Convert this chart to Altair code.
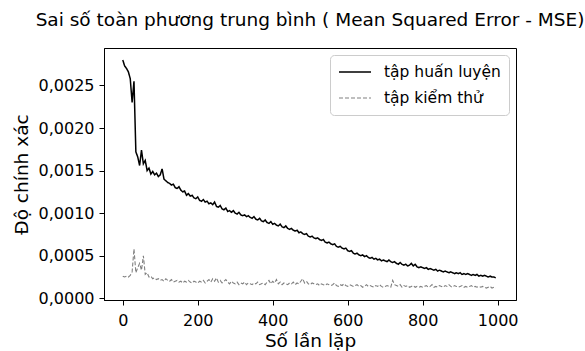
import altair as alt
import pandas as pd

# MSE values, every 5 iterations (0, 5, ..., 995)
train_mse = [
    .00280, .00273, .00270, .00266, .00258, .00230, .00255, .00172, .00166, .00156,
    .00174, .00158, .00162, .00150, .00153, .00146, .00149, .00145, .00147, .00143,
    .00145, .00152, .00140, .00138, .00136, .00135, .00133, .00134, .00130, .00129,
    .00131, .00127, .00125, .00126, .00121, .00123, .00120, .00121, .00118, .00117,
    .00119, .00115, .00114, .00116, .00113, .00114, .00111, .00112, .00110, .00113,
    .00108, .00107, .00109, .00105, .00104, .00106, .00102, .00103, .00101, .00103,
    .00100, .00099, .00101, .00098, .00097, .00098, .00096, .00097, .00095, .00094,
    .00096, .00093, .00092, .00094, .00091, .00090, .00092, .00089, .00088, .00090,
    .00087, .00088, .00086, .00085, .00087, .00084, .00083, .00085, .00082, .00081,
    .00082, .00080, .00079, .00080, .00077, .00078, .00076, .00075, .00076, .00073,
    .00072, .00073, .00071, .00070, .00071, .00069, .00068, .00069, .00066, .00065,
    .00066, .00064, .00063, .00064, .00061, .00060, .00061, .00059, .00058, .00059,
    .00056, .00055, .00056, .00053, .00052, .00053, .00051, .00050, .00051, .00049,
    .00050, .00048, .00047, .00048, .00046, .00047, .00045, .00046, .00044, .00045,
    .00044, .00043, .00045, .00043, .00042, .00043, .00041, .00040, .00042, .00040,
    .00039, .00040, .00038, .00039, .00041, .00038, .00040, .00037, .00036, .00037,
    .00036, .00035, .00036, .00034, .00035, .00034, .00033, .00034, .00032, .00033,
    .00032, .00031, .00032, .00031, .00030, .00031, .00030, .00029, .00030, .00029,
    .00030, .00028, .00029, .00028, .00029, .00028, .00027, .00028, .00027, .00028,
    .00026, .00027, .00026, .00027, .00026, .00025, .00026, .00025, .00025, .00024,
]

test_mse = [
    .00026, .00025, .00026, .00025, .00027, .00031, .00058, .00030, .00036, .00041,
    .00033, .00050, .00028, .00030, .00025, .00026, .00023, .00024, .00022, .00023,
    .00021, .00022, .00020, .00023, .00021, .00020, .00022, .00019, .00020, .00021,
    .00019, .00020, .00018, .00020, .00019, .00021, .00019, .00018, .00020, .00019,
    .00018, .00020, .00019, .00021, .00018, .00020, .00022, .00019, .00023, .00020,
    .00024, .00019, .00021, .00018, .00020, .00022, .00019, .00017, .00020, .00018,
    .00017, .00019, .00016, .00018, .00017, .00019, .00016, .00018, .00017, .00016,
    .00018, .00017, .00019, .00016, .00017, .00018, .00016, .00019, .00021, .00017,
    .00020, .00018, .00022, .00017, .00019, .00016, .00018, .00017, .00016, .00018,
    .00017, .00019, .00016, .00018, .00017, .00020, .00023, .00018, .00020, .00017,
    .00016, .00018, .00017, .00016, .00017, .00015, .00017, .00016, .00015, .00017,
    .00016, .00015, .00016, .00018, .00015, .00014, .00016, .00015, .00017, .00015,
    .00014, .00016, .00015, .00014, .00015, .00016, .00014, .00015, .00013, .00014,
    .00016, .00014, .00015, .00014, .00013, .00015, .00014, .00016, .00014, .00013,
    .00014, .00015, .00014, .00013, .00021, .00016, .00015, .00014, .00016, .00013,
    .00015, .00014, .00015, .00013, .00014, .00015, .00013, .00014, .00013, .00014,
    .00013, .00014, .00015, .00013, .00014, .00016, .00013, .00014, .00013, .00015,
    .00014, .00013, .00015, .00014, .00016, .00014, .00013, .00015, .00014, .00013,
    .00014, .00015, .00013, .00014, .00013, .00014, .00015, .00013, .00014, .00013,
    .00014, .00013, .00014, .00013, .00012, .00013, .00014, .00012, .00013, .00012,
]

series_names = ["tập huấn luyện", "tập kiểm thử"]
x_ticks = [0, 200, 400, 600, 800, 1000]
y_ticks = [0.0, 0.0005, 0.0010, 0.0015, 0.0020, 0.0025]

rows = []
for name, vals in zip(series_names, [train_mse, test_mse]):
    for i, v in enumerate(vals):
        rows.append({"epoch": i * 5, "mse": v, "series": name})
df = pd.DataFrame(rows)

FONT = "DejaVu Sans"

chart = alt.Chart(df).mark_line().encode(
    x=alt.X("epoch:Q",
            scale=alt.Scale(domain=[-50, 1049], nice=False, zero=False),
            axis=alt.Axis(values=x_ticks, title="Số lần lặp", format="d")),
    y=alt.Y("mse:Q",
            scale=alt.Scale(domain=[-0.00002, 0.00294], nice=False, zero=False),
            axis=alt.Axis(values=y_ticks, title="Độ chính xác",
                          labelExpr="replace(format(datum.value, '.4f'), '.', ',')")),
    color=alt.Color("series:N",
                    scale=alt.Scale(domain=series_names, range=["#000000", "#808080"]),
                    legend=alt.Legend(title=None)),
    strokeDash=alt.StrokeDash("series:N",
                              scale=alt.Scale(domain=series_names, range=[[1, 0], [4, 2]]),
                              legend=alt.Legend(title=None)),
    strokeWidth=alt.StrokeWidth("series:N",
                                scale=alt.Scale(domain=series_names, range=[1.5, 1.1]),
                                legend=None),
).properties(
    width=412,
    height=252,
    padding={"left": 104, "top": 48, "right": 69, "bottom": 51},
    autosize=alt.AutoSizeParams(type="none"),
    title=alt.Title("Sai số toàn phương trung bình ( Mean Squared Error - MSE)",
                    fontSize=18.5, font=FONT, fontWeight="normal", color="black",
                    offset=19, anchor="middle"),
).configure_view(
    stroke="black", strokeWidth=1
).configure_axis(
    grid=False,
    domainColor="black",
    tickColor="black",
    tickSize=5,
    labelFont=FONT,
    labelFontSize=16,
    labelColor="black",
    titleFont=FONT,
    titleFontSize=18.5,
    titleFontWeight="normal",
    titleColor="black",
).configure_axisY(
    labelPadding=5,
    titlePadding=7,
).configure_axisX(
    labelPadding=7,
    titlePadding=3,
).configure_legend(
    orient="none",
    legendX=226,
    legendY=7,
    strokeColor="#cccccc",
    fillColor="white",
    cornerRadius=4,
    padding=8,
    symbolType="M-1,0H3",
    symbolSize=256,
    symbolStrokeWidth=1.5,
    labelFont=FONT,
    labelFontSize=15.5,
    labelColor="black",
    labelOffset=28,
    rowPadding=8,
)

chart.save("out.html", embed_options={"renderer": "svg", "actions": False})
